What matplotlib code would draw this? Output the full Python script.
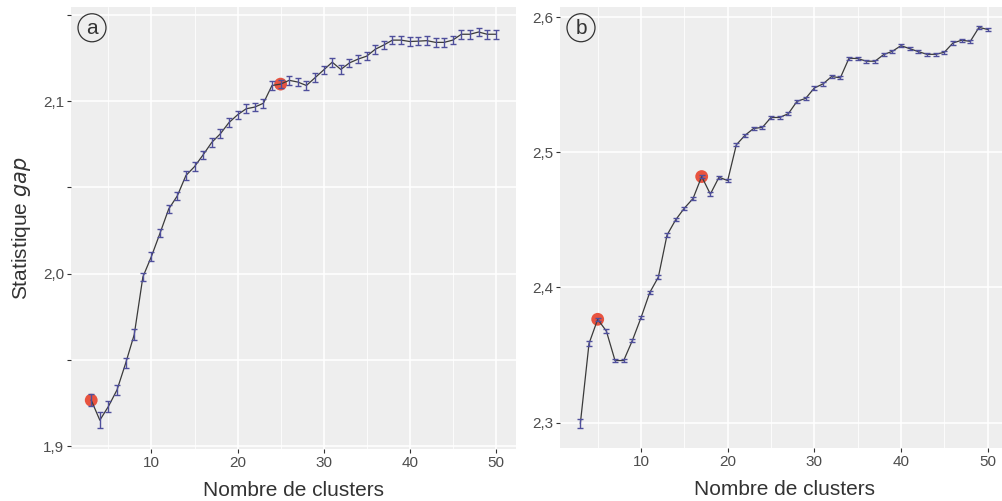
import numpy as np
import matplotlib
matplotlib.use('Agg')
import matplotlib.pyplot as plt
from matplotlib.patches import Ellipse

plt.rcParams['font.family'] = ['Liberation Sans', 'DejaVu Sans']

# nombre de clusters
k = np.arange(3, 51)

# panneau a : statistique gap et erreur standard
gap_a = [1.9266, 1.915, 1.923, 1.9326, 1.948, 1.9647, 1.998, 2.010, 2.0235, 2.0374,
         2.045, 2.0568, 2.062, 2.0688, 2.076, 2.081, 2.0875, 2.092, 2.0955, 2.0965,
         2.0987, 2.109, 2.1098, 2.112, 2.111, 2.109, 2.1135, 2.118, 2.1225, 2.1183,
         2.1221, 2.1243, 2.126, 2.130, 2.1325, 2.1353, 2.1353, 2.1345, 2.1347, 2.135,
         2.134, 2.134, 2.1353, 2.1387, 2.1387, 2.140, 2.1387, 2.1387]
se_a = [0.0035, 0.0045, 0.003, 0.003, 0.003, 0.003, 0.0025, 0.0025, 0.0025, 0.0025,
        0.0025, 0.0025, 0.0025, 0.0025, 0.0025, 0.0025, 0.0025, 0.0025, 0.0025, 0.0025,
        0.0025, 0.0025, 0.0025, 0.0025, 0.0025, 0.0025, 0.0025, 0.0025, 0.0025, 0.0025,
        0.0025, 0.0025, 0.0025, 0.0025, 0.0025, 0.0025, 0.0025, 0.0025, 0.0025, 0.0025,
        0.0025, 0.0025, 0.0025, 0.0025, 0.0025, 0.0025, 0.0025, 0.0025]
best_a = [3, 25]

# panneau b
gap_b = [2.2995, 2.3585, 2.3764, 2.3677, 2.3459, 2.3459, 2.3607, 2.3776, 2.3961, 2.4076,
         2.4387, 2.450, 2.4586, 2.4657, 2.482, 2.469, 2.4815, 2.479, 2.5055, 2.5125,
         2.5176, 2.5183, 2.5257, 2.5257, 2.5285, 2.5376, 2.5398, 2.5475, 2.5505, 2.556,
         2.555, 2.5695, 2.5693, 2.5673, 2.5673, 2.5722, 2.5746, 2.5788, 2.5766, 2.5744,
         2.5724, 2.5724, 2.5739, 2.5808, 2.5828, 2.582, 2.5923, 2.5908]
se_b = [0.0035, 0.002] + [0.0012] * 46
best_b = [5, 17]

ytick_a = [1.9, 1.95, 2.0, 2.05, 2.1, 2.15]
ylab_a = ['1,9', '', '2,0', '', '2,1', '']
ytick_b = [2.3, 2.4, 2.5, 2.6]
ylab_b = ['2,3', '2,4', '2,5', '2,6']
xticks = [10, 20, 30, 40, 50]

W, H = 1002, 501
fig = plt.figure(figsize=(W / 100, H / 100), dpi=100)
ax1 = fig.add_axes([71 / W, (H - 449) / H, 445 / W, 442 / H])
ax2 = fig.add_axes([560 / W, (H - 448) / H, 448 / W, 441 / H])


def style(ax, gap, se, best, yt, yl, ylim, letter):
    gap = np.asarray(gap)
    ax.set_facecolor('#EEEEEE')
    for s in ax.spines.values():
        s.set_visible(False)
    ax.plot(k, gap, color='#3a3a3a', lw=0.9, zorder=3)
    ax.errorbar(k, gap, yerr=se, fmt='none', ecolor='#4f4f9c', elinewidth=1.0,
                capsize=2.5, capthick=1.0, zorder=4)
    idx = [list(k).index(b) for b in best]
    ax.scatter(k[idx], gap[idx], s=85, color='#e8533f', edgecolor='none', zorder=2)
    ax.set_xlim(0.65, 52.35)
    ax.set_ylim(*ylim)
    ax.set_xticks(xticks)
    ax.set_xticks([5, 15, 25, 35, 45], minor=True)
    ax.set_yticks(yt)
    ax.set_yticklabels(yl)
    ax.grid(True, which='major', color='white', lw=1.1, zorder=0)
    ax.grid(True, which='minor', color='white', lw=0.55, zorder=0)
    ax.set_axisbelow(True)
    ax.tick_params(axis='both', which='major', length=3, width=0.8, color='#333333',
                   labelcolor='#4d4d4d', labelsize=11, pad=2)
    ax.tick_params(axis='both', which='minor', length=0)
    ax.set_xlabel('Nombre de clusters', fontsize=15, color='#333333', labelpad=8)

    # lettre du panneau dans un cercle (28 px de diametre)
    pw = ax.get_position().width * W
    ph = ax.get_position().height * H
    cx = 21 / pw
    ax.add_patch(Ellipse((cx, 0.953), 28 / pw, 28 / ph, transform=ax.transAxes,
                         fill=False, ec='#333333', lw=0.9, zorder=5))
    ax.text(cx, 0.951, letter, transform=ax.transAxes, ha='center', va='center',
            fontsize=15, color='#333333', zorder=6)


style(ax1, gap_a, se_a, best_a, ytick_a, ylab_a, (1.8983, 2.1545), 'a')
style(ax2, gap_b, se_b, best_b, ytick_b, ylab_b, (2.2812, 2.6074), 'b')
ax1.set_ylabel('Statistique $\\it{gap}$', fontsize=15, color='#333333', labelpad=7)

fig.savefig('out.png', dpi=100)
